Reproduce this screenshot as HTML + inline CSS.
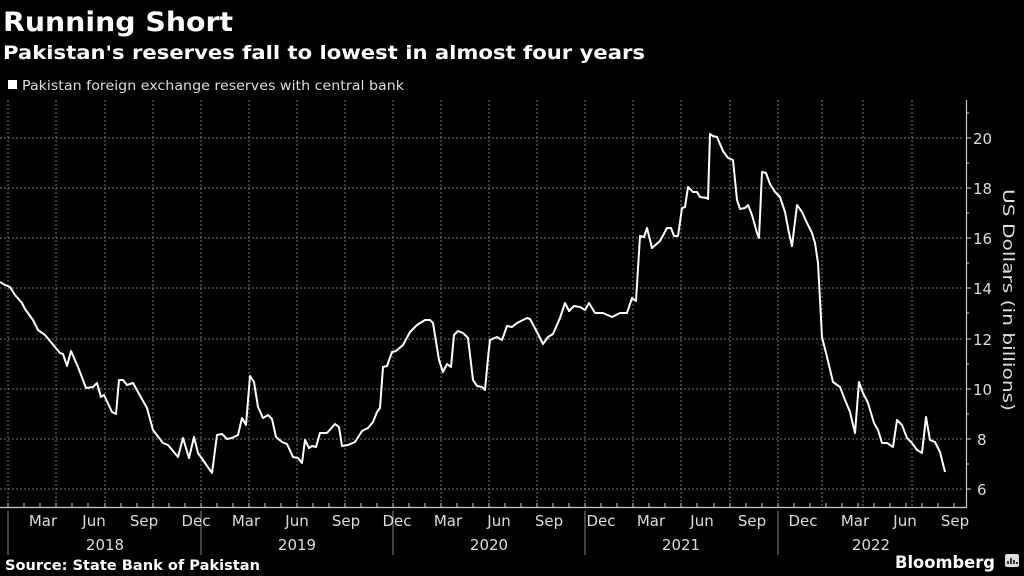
<!DOCTYPE html>
<html><head><meta charset="utf-8"><style>
html,body{margin:0;padding:0;background:#000;}
svg{display:block;font-family:"DejaVu Sans","Liberation Sans",sans-serif;}
</style></head><body>
<svg width="1024" height="576" viewBox="0 0 1024 576" xmlns="http://www.w3.org/2000/svg">
<rect width="1024" height="576" fill="#000"/>
<text x="3" y="31" fill="#fff" font-size="27" font-weight="bold" textLength="230" lengthAdjust="spacingAndGlyphs">Running Short</text>
<text x="3" y="59" fill="#fff" font-size="19" font-weight="bold" textLength="642" lengthAdjust="spacingAndGlyphs">Pakistan's reserves fall to lowest in almost four years</text>
<rect x="8" y="80" width="9" height="9" fill="#fff"/>
<text x="22" y="90" fill="#ddd" font-size="13" textLength="382" lengthAdjust="spacingAndGlyphs">Pakistan foreign exchange reserves with central bank</text>
<g stroke="#777" stroke-width="1" stroke-dasharray="2,2">
<line x1="0" x2="962" y1="138" y2="138"/><line x1="0" x2="962" y1="188" y2="188"/><line x1="0" x2="962" y1="238" y2="238"/><line x1="0" x2="962" y1="288" y2="288"/><line x1="0" x2="962" y1="339" y2="339"/><line x1="0" x2="962" y1="389" y2="389"/><line x1="0" x2="962" y1="439" y2="439"/><line x1="0" x2="962" y1="489" y2="489"/>
<line x1="8" x2="8" y1="100" y2="507"/><line x1="56" x2="56" y1="100" y2="507"/><line x1="105" x2="105" y1="100" y2="507"/><line x1="153" x2="153" y1="100" y2="507"/><line x1="201" x2="201" y1="100" y2="507"/><line x1="249" x2="249" y1="100" y2="507"/><line x1="297" x2="297" y1="100" y2="507"/><line x1="345" x2="345" y1="100" y2="507"/><line x1="393" x2="393" y1="100" y2="507"/><line x1="441" x2="441" y1="100" y2="507"/><line x1="489" x2="489" y1="100" y2="507"/><line x1="537" x2="537" y1="100" y2="507"/><line x1="585" x2="585" y1="100" y2="507"/><line x1="633" x2="633" y1="100" y2="507"/><line x1="681" x2="681" y1="100" y2="507"/><line x1="730" x2="730" y1="100" y2="507"/><line x1="778" x2="778" y1="100" y2="507"/><line x1="822" x2="822" y1="100" y2="507"/><line x1="863" x2="863" y1="100" y2="507"/><line x1="912" x2="912" y1="100" y2="507"/>
</g>
<g stroke="#ccc" stroke-width="1.2" fill="none">
<line x1="0" x2="966" y1="507.5" y2="507.5"/>
<line x1="966.5" x2="966.5" y1="100" y2="508"/>
</g>
<g stroke="#ccc" stroke-width="1">
<path d="M966 138h5M966 188h5M966 238h5M966 288h5M966 339h5M966 389h5M966 439h5M966 489h5M966 163h3M966 213h3M966 263h3M966 313h3M966 364h3M966 414h3M966 464h3M966 113h3"/>
<path d="M8 507v-4M24 507v-4M40 507v-4M56 507v-4M72 507v-4M88 507v-4M105 507v-4M121 507v-4M137 507v-4M153 507v-4M169 507v-4M185 507v-4M201 507v-4M217 507v-4M233 507v-4M249 507v-4M265 507v-4M281 507v-4M297 507v-4M313 507v-4M329 507v-4M345 507v-4M361 507v-4M377 507v-4M393 507v-4M409 507v-4M425 507v-4M441 507v-4M457 507v-4M473 507v-4M489 507v-4M505 507v-4M521 507v-4M537 507v-4M553 507v-4M569 507v-4M585 507v-4M601 507v-4M617 507v-4M633 507v-4M649 507v-4M665 507v-4M681 507v-4M697 507v-4M714 507v-4M730 507v-4M746 507v-4M762 507v-4M778 507v-4M794 507v-4M810 507v-4M826 507v-4M842 507v-4M858 507v-4M874 507v-4M890 507v-4M906 507v-4M922 507v-4M938 507v-4M954 507v-4"/>
<path d="M8 511v44M201 511v44M393 511v44M585 511v44M778 511v44" stroke="#888"/>
</g>
<g fill="#ddd" font-size="15">
<text x="973" y="144">20</text><text x="973" y="194">18</text><text x="973" y="244">16</text><text x="973" y="294">14</text><text x="973" y="345">12</text><text x="973" y="395">10</text><text x="977" y="445">8</text><text x="977" y="495">6</text>
</g>
<text transform="translate(1003,300) rotate(90)" text-anchor="middle" fill="#ddd" font-size="16" textLength="222" lengthAdjust="spacingAndGlyphs">US Dollars (in billions)</text>
<g fill="#ddd" font-size="15" text-anchor="middle">
<text x="43" y="526">Mar</text><text x="94" y="526">Jun</text><text x="144" y="526">Sep</text><text x="196" y="526">Dec</text>
<text x="246" y="526">Mar</text><text x="297" y="526">Jun</text><text x="346" y="526">Sep</text><text x="397" y="526">Dec</text>
<text x="448" y="526">Mar</text><text x="499" y="526">Jun</text><text x="549" y="526">Sep</text><text x="601" y="526">Dec</text>
<text x="651" y="526">Mar</text><text x="702" y="526">Jun</text><text x="752" y="526">Sep</text><text x="803" y="526">Dec</text>
<text x="855" y="526">Mar</text><text x="905" y="526">Jun</text><text x="955" y="526">Sep</text>
<text x="105" y="550">2018</text><text x="297" y="550">2019</text><text x="489" y="550">2020</text><text x="681" y="550">2021</text><text x="871" y="550">2022</text>
</g>
<text x="5" y="570" fill="#fff" font-size="14" font-weight="bold" textLength="255" lengthAdjust="spacingAndGlyphs">Source: State Bank of Pakistan</text>
<text x="895" y="568" fill="#fff" font-size="17" font-weight="bold" textLength="100" lengthAdjust="spacingAndGlyphs">Bloomberg</text>
<rect x="1005" y="554" width="14" height="13" rx="2" fill="#ddd"/>
<path d="M1008 564v-3M1011 564v-6M1014 564v-4M1017 564v-2" stroke="#000" stroke-width="1.5"/>
<polyline fill="none" stroke="#fff" stroke-width="2" stroke-linejoin="round" points="0,282 5,285 10,287 15,295 22,303 25,309 33,320 38,330 45,335 55,347 60,353 63,354 67,366 71,351 78,367 86,388 93,387 97,383 101,397 104,395 112,412 116,414 119,380 123,380 127,385 133,383 138,392 147,408 153,430 163,443 168,445 178,457 183,438 189,458 194,437 198,453 212,473 217,435 222,434 227,439 232,438 238,435 242,418 246,425 250,376 254,382 258,407 263,418 268,415 272,419 276,437 282,442 287,444 293,457 298,458 302,463 305,440 309,448 312,446 316,447 320,433 327,433 335,424 339,427 342,446 348,445 355,442 362,431 368,428 373,422 377,412 380,408 383,367 387,366 392,352 396,351 403,345 410,332 417,325 425,320 430,320 433,323 439,360 443,372 447,364 451,367 454,335 458,331 463,333 468,338 473,380 477,386 482,387 485,390 488,358 490,340 497,337 502,340 507,326 512,327 517,323 527,318 530,319 537,332 543,344 548,337 553,334 560,318 565,303 569,311 574,306 580,307 585,310 589,303 595,313 603,313 612,317 620,313 627,313 632,298 636,301 640,236 644,237 647,228 652,248 660,241 667,228 671,228 674,236 678,236 682,208 685,207 688,187 693,192 697,192 700,197 707,198 708,199 710,134 713,136 717,137 723,151 728,158 733,160 737,200 740,209 745,208 748,205 752,215 757,233 759,238 762,172 766,173 770,184 775,192 780,197 785,212 789,233 792,246 797,205 802,212 807,223 812,233 815,243 818,263 822,337 827,357 833,382 840,387 845,400 850,412 855,433 859,382 863,393 868,403 874,423 878,430 882,443 887,443 893,447 897,420 902,425 907,438 912,443 917,450 922,453 926,417 930,440 935,442 940,452 945,472"/>
</svg>
</body></html>
